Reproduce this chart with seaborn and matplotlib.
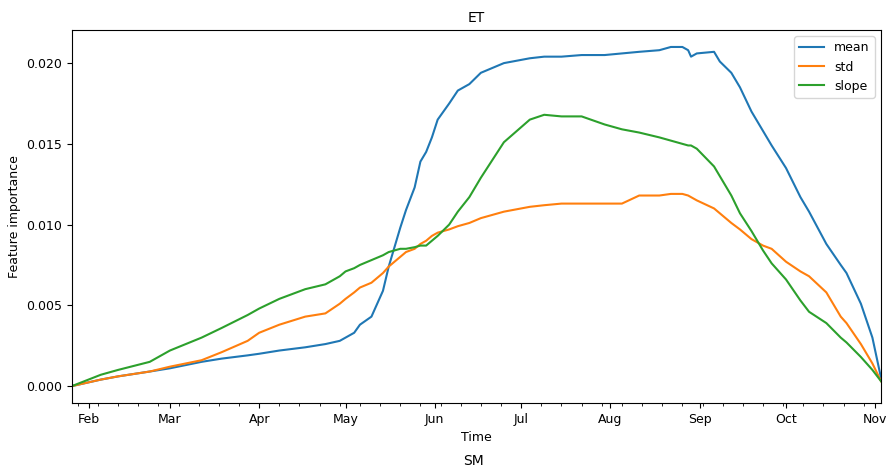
import matplotlib
matplotlib.use("Agg")
import matplotlib.pyplot as plt
import matplotlib.dates as mdates
import pandas as pd
import seaborn as sns

dates = [
    "2019-01-26", "2019-02-05", "2019-02-11", "2019-02-22", "2019-03-01", "2019-03-12",
    "2019-03-19", "2019-03-28", "2019-04-01", "2019-04-08", "2019-04-17", "2019-04-24",
    "2019-04-29", "2019-05-01", "2019-05-04", "2019-05-06", "2019-05-10", "2019-05-14",
    "2019-05-16", "2019-05-18", "2019-05-20", "2019-05-22", "2019-05-25", "2019-05-27",
    "2019-05-29", "2019-05-31", "2019-06-02", "2019-06-06", "2019-06-09", "2019-06-13",
    "2019-06-17", "2019-06-25", "2019-07-04", "2019-07-09", "2019-07-15", "2019-07-22",
    "2019-07-30", "2019-08-05", "2019-08-11", "2019-08-18", "2019-08-22", "2019-08-26",
    "2019-08-28", "2019-08-29", "2019-08-31", "2019-09-06", "2019-09-08", "2019-09-12",
    "2019-09-15", "2019-09-19", "2019-09-23", "2019-09-26", "2019-10-01", "2019-10-06",
    "2019-10-09", "2019-10-15", "2019-10-20", "2019-10-22", "2019-10-27", "2019-10-31",
    "2019-11-03",
]

mean = [
    0.0000, 0.0004, 0.0006, 0.0009, 0.0011, 0.0015,
    0.0017, 0.0019, 0.0020, 0.0022, 0.0024, 0.0026,
    0.0028, 0.0030, 0.0033, 0.0038, 0.0043, 0.0059,
    0.0074, 0.0086, 0.0098, 0.0109, 0.0123, 0.0139,
    0.0145, 0.0154, 0.0165, 0.0175, 0.0183, 0.0187,
    0.0194, 0.0200, 0.0203, 0.0204, 0.0204, 0.0205,
    0.0205, 0.0206, 0.0207, 0.0208, 0.0210, 0.0210,
    0.0208, 0.0204, 0.0206, 0.0207, 0.0201, 0.0194,
    0.0185, 0.0170, 0.0158, 0.0149, 0.0135, 0.0117,
    0.0108, 0.0088, 0.0075, 0.0070, 0.0051, 0.0030,
    0.0005,
]

std = [
    0.0000, 0.0004, 0.0006, 0.0009, 0.0012, 0.0016,
    0.0021, 0.0028, 0.0033, 0.0038, 0.0043, 0.0045,
    0.0051, 0.0054, 0.0058, 0.0061, 0.0064, 0.0070,
    0.0074, 0.0077, 0.0080, 0.0083, 0.0085, 0.0088,
    0.0090, 0.0093, 0.0095, 0.0097, 0.0099, 0.0101,
    0.0104, 0.0108, 0.0111, 0.0112, 0.0113, 0.0113,
    0.0113, 0.0113, 0.0118, 0.0118, 0.0119, 0.0119,
    0.0118, 0.0117, 0.0115, 0.0110, 0.0107, 0.0101,
    0.0097, 0.0091, 0.0087, 0.0085, 0.0077, 0.0071,
    0.0068, 0.0058, 0.0043, 0.0039, 0.0026, 0.0014,
    0.0003,
]

slope = [
    0.0000, 0.0007, 0.0010, 0.0015, 0.0022, 0.0030,
    0.0036, 0.0044, 0.0048, 0.0054, 0.0060, 0.0063,
    0.0068, 0.0071, 0.0073, 0.0075, 0.0078, 0.0081,
    0.0083, 0.0084, 0.0085, 0.0085, 0.0086, 0.0087,
    0.0087, 0.0090, 0.0093, 0.0100, 0.0108, 0.0117,
    0.0129, 0.0151, 0.0165, 0.0168, 0.0167, 0.0167,
    0.0162, 0.0159, 0.0157, 0.0154, 0.0152, 0.0150,
    0.0149, 0.0149, 0.0147, 0.0136, 0.0130, 0.0118,
    0.0107, 0.0096, 0.0084, 0.0076, 0.0066, 0.0053,
    0.0046, 0.0039, 0.0030, 0.0027, 0.0018, 0.0010,
    0.0003,
]

df = pd.DataFrame({"mean": mean, "std": std, "slope": slope},
                  index=pd.to_datetime(dates))

plt.rcParams["font.family"] = ["DejaVu Sans"]
plt.rcParams["font.size"] = 9

fig = plt.figure(figsize=(8.86, 4.69), dpi=100)
ax = fig.add_axes([0.0813, 0.1407, 0.9131, 0.7953])

colors = ["#1f77b4", "#ff7f0e", "#2ca02c"]
for col, c in zip(df.columns, colors):
    sns.lineplot(x=df.index, y=df[col], ax=ax, color=c, label=col, linewidth=1.5)

ax.set_xlim(df.index[0], df.index[-1])
ax.xaxis.set_major_locator(mdates.MonthLocator())
ax.xaxis.set_major_formatter(mdates.DateFormatter("%b"))
ax.xaxis.set_minor_locator(mdates.WeekdayLocator(byweekday=mdates.MO))
ax.set_yticks([0.0, 0.005, 0.010, 0.015, 0.020])
ax.set_yticklabels(["0.000", "0.005", "0.010", "0.015", "0.020"])

ax.set_title("ET", fontsize=10)
ax.set_xlabel("Time", fontsize=9)
ax.set_ylabel("Feature importance", fontsize=9)
ax.legend(loc="upper right", fontsize=9)

fig.text(0.534, 0.016, "SM", ha="center", va="center", fontsize=10)

fig.savefig("out.png", dpi=100)
